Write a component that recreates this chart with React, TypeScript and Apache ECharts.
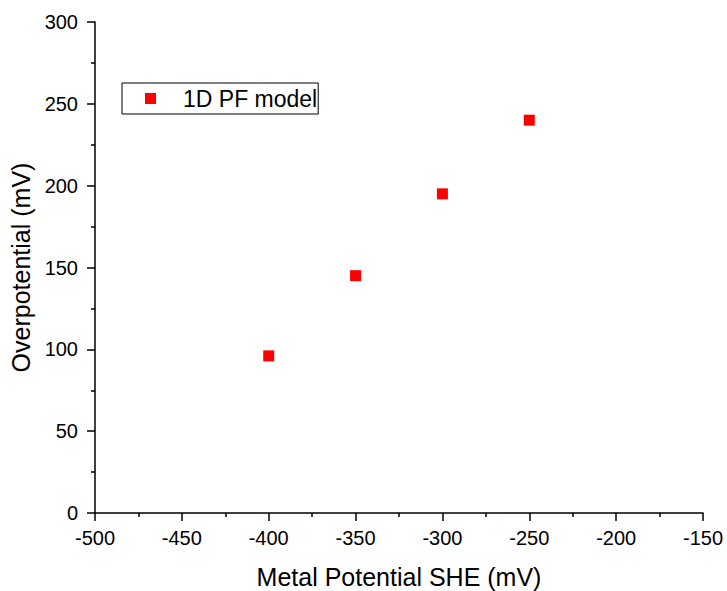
import React, { useEffect, useRef } from "react";
import * as echarts from "echarts";

const seriesName = "1D PF model";
const xValues = [-400, -350, -300, -250];
const yValues = [96, 145, 195, 240];

export default function App() {
  const ref = useRef<HTMLDivElement>(null);
  useEffect(() => {
    document.body.style.margin = "0";
    document.body.style.overflow = "hidden";
    const chart = echarts.init(ref.current!, null, { renderer: "svg" });
    const font = "Arial, 'Liberation Sans', sans-serif";
    chart.setOption({
      animation: false,
      backgroundColor: "#ffffff",
      grid: {
        left: 95,
        top: 22,
        width: 608,
        height: 491,
        containLabel: false,
        outerBoundsMode: "none",
      },
      legend: {
        left: 122,
        top: 83,
        orient: "vertical",
        data: [{ name: seriesName, icon: "rect" }],
        itemWidth: 11,
        itemHeight: 11,
        itemGap: 0,
        padding: [4, 1, 4, 23],
        borderColor: "#000",
        borderWidth: 1,
        borderRadius: 0,
        textStyle: { fontSize: 23, color: "#000", fontFamily: font, padding: [0, 0, 0, 22] },
      },
      xAxis: {
        type: "value",
        min: -500,
        max: -150,
        interval: 50,
        name: "Metal Potential SHE (mV)",
        nameLocation: "middle",
        nameGap: 51,
        nameTextStyle: { fontSize: 25, color: "#000", fontFamily: font },
        axisLine: { onZero: false, lineStyle: { color: "#000", width: 1.5 } },
        axisTick: { inside: false, length: 8, lineStyle: { color: "#000", width: 1.5 } },
        minorTick: { show: true, splitNumber: 2, length: 4, lineStyle: { color: "#000", width: 1.5 } },
        axisLabel: { fontSize: 20, color: "#000", fontFamily: font, margin: 15 },
        splitLine: { show: false },
      },
      yAxis: {
        type: "value",
        min: 0,
        max: 300,
        interval: 50,
        name: "Overpotential (mV)",
        nameLocation: "middle",
        nameGap: 56,
        nameTextStyle: { fontSize: 25, color: "#000", fontFamily: font },
        axisLine: { onZero: false, lineStyle: { color: "#000", width: 1.5 } },
        axisTick: { inside: false, length: 8, lineStyle: { color: "#000", width: 1.5 } },
        minorTick: { show: true, splitNumber: 2, length: 4, lineStyle: { color: "#000", width: 1.5 } },
        axisLabel: { fontSize: 20, color: "#000", fontFamily: font, margin: 17 },
        splitLine: { show: false },
      },
      series: [
        {
          name: seriesName,
          type: "scatter",
          symbol: "rect",
          symbolSize: 11,
          itemStyle: { color: "#ff0000", opacity: 1 },
          data: xValues.map((x, i) => [x, yValues[i]]),
        },
      ],
    });
    return () => chart.dispose();
  }, []);
  return (
    <div
      style={{
        position: "fixed",
        left: 0,
        top: 0,
        width: 727,
        height: 591,
        overflow: "hidden",
        background: "#fff",
      }}
    >
      <div ref={ref} style={{ width: 727, height: 591 }} />
    </div>
  );
}
